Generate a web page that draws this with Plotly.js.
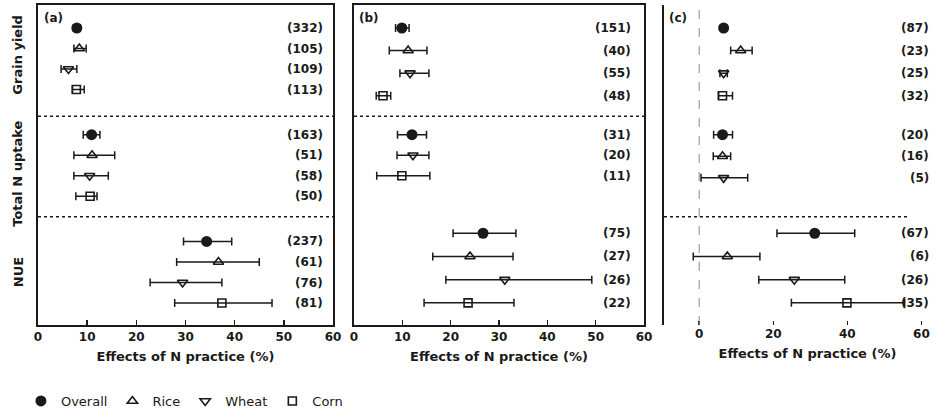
<!DOCTYPE html>
<html><head><meta charset="utf-8">
<script src="https://cdn.plot.ly/plotly-3.0.1.min.js"></script>
<style>html,body{margin:0;padding:0;background:#fff}#chart{width:951px;height:417px}</style>
</head><body><div id="chart"></div>
<script>
const groupNames = ['Grain yield', 'Total N uptake', 'NUE'];
const cropNames = ['Overall', 'Rice', 'Wheat', 'Corn'];
const panelLabels = ['(a)', '(b)', '(c)'];
const xTickVals = [0, 10, 20, 30, 40, 50, 60];
const xTickValsC = [0, 20, 40, 60];
const xTitle = 'Effects of N practice (%)';

// Panel (a)
const cropA = ['Overall','Rice','Wheat','Corn','Overall','Rice','Wheat','Corn','Overall','Rice','Wheat','Corn'];
const groupA = [0,0,0,0,1,1,1,1,2,2,2,2];
const meanA = [7.9, 8.4, 6.2, 7.8, 10.9, 11.0, 10.5, 10.6, 34.3, 36.7, 29.4, 37.4];
const lowA  = [7.2, 7.3, 4.7, 7.0, 9.2, 7.3, 7.3, 7.7, 29.6, 28.2, 22.8, 27.8];
const highA = [8.6, 9.8, 7.9, 9.4, 12.6, 15.6, 14.3, 12.0, 39.4, 45.0, 37.4, 47.6];
const nA = ['(332)','(105)','(109)','(113)','(163)','(51)','(58)','(50)','(237)','(61)','(76)','(81)'];

// Panel (b)
const cropB = ['Overall','Rice','Wheat','Corn','Overall','Wheat','Corn','Overall','Rice','Wheat','Corn'];
const groupB = [0,0,0,0,1,1,1,2,2,2,2];
const meanB = [9.9, 11.2, 11.6, 6.0, 12.0, 12.2, 9.9, 26.7, 24.0, 31.2, 23.6];
const lowB  = [8.6, 7.3, 9.5, 4.6, 9.0, 8.9, 4.7, 20.5, 16.3, 19.0, 14.5];
const highB = [11.4, 15.1, 15.5, 7.6, 15.0, 15.5, 15.7, 33.5, 32.9, 49.2, 33.1];
const nB = ['(151)','(40)','(55)','(48)','(31)','(20)','(11)','(75)','(27)','(26)','(22)'];

// Panel (c)
const cropC = ['Overall','Rice','Wheat','Corn','Overall','Rice','Wheat','Overall','Rice','Wheat','Corn'];
const groupC = [0,0,0,0,1,1,1,2,2,2,2];
const meanC = [6.6, 11.2, 6.6, 6.3, 6.3, 6.3, 6.6, 31.2, 7.6, 25.7, 39.9];
const lowC  = [5.8, 8.5, 5.6, 5.2, 3.9, 3.8, 0.5, 21.0, -1.6, 16.1, 24.9];
const highC = [7.4, 14.3, 7.6, 9.0, 9.0, 8.5, 13.1, 42.0, 16.4, 39.3, 55.5];
const nC = ['(87)','(23)','(25)','(32)','(20)','(16)','(5)','(67)','(6)','(26)','(35)'];

const FONT = 'DejaVu Sans, Liberation Sans, Arial, sans-serif';
const INK = '#1a1a1a';
const markerStyle = {
  Overall: {symbol: 'circle', size: 11, color: INK, line: {width: 0}},
  Rice: {symbol: 'triangle-up-open', size: 9, color: INK, line: {width: 1.6, color: INK}},
  Wheat: {symbol: 'triangle-down-open', size: 9, color: INK, line: {width: 1.6, color: INK}},
  Corn: {symbol: 'square-open', size: 8, color: INK, line: {width: 1.6, color: INK}}
};

// row layout per panel: start of each group and spacing between rows inside it
const panels = [
  {crop: cropA, group: groupA, mean: meanA, low: lowA, high: highA, n: nA, xa: 'x', ya: 'y', nx: 0.973,
   starts: [0, 5.2, 10.4], steps: [1, 1, 1]},
  {crop: cropB, group: groupB, mean: meanB, low: lowB, high: highB, n: nB, xa: 'x2', ya: 'y2', nx: 0.962,
   starts: [0, 5.2, 10.0], steps: [1.1, 1, 1.13]},
  {crop: cropC, group: groupC, mean: meanC, low: lowC, high: highC, n: nC, xa: 'x3', ya: 'y3', nx: 0.932,
   starts: [0, 5.2, 10.0], steps: [1.1, 1.05, 1.13]}
];

const B = s => '<b>' + s + '</b>';
const traces = [];
const annotations = [];
panels.forEach((p, pi) => {
  const counts = [0, 0, 0];
  const ypos = p.group.map(g => p.starts[g] + p.steps[g] * (counts[g]++));
  cropNames.forEach(c => {
    const idx = p.crop.map((v, i) => v === c ? i : -1).filter(i => i >= 0);
    traces.push({
      type: 'scatter', mode: 'markers', name: c, legendgroup: c, showlegend: pi === 0,
      xaxis: p.xa, yaxis: p.ya,
      x: idx.map(i => p.mean[i]), y: idx.map(i => ypos[i]),
      marker: markerStyle[c],
      error_x: {type: 'data', symmetric: false,
        array: idx.map(i => p.high[i] - p.mean[i]),
        arrayminus: idx.map(i => p.mean[i] - p.low[i]),
        color: INK, thickness: 1.5, width: 4},
      hoverinfo: 'x+name'
    });
  });
  p.n.forEach((t, i) => annotations.push({
    text: B(t), xref: p.xa + ' domain', x: p.nx, xanchor: 'right', yref: p.ya, y: ypos[i],
    yanchor: 'middle', showarrow: false, font: {family: FONT, size: 12, color: INK}
  }));
  annotations.push({
    text: B(panelLabels[pi]), xref: p.xa + ' domain', x: 0.012, xanchor: 'left',
    yref: p.ya + ' domain', y: 1, yanchor: 'top', yshift: -4, showarrow: false,
    font: {family: FONT, size: 12, color: INK}
  });
});

const groupLabelY = [1.3, 7.1, 11.9];
groupNames.forEach((g, gi) => annotations.push({
  text: B(g), textangle: -90, xref: 'paper', x: 18 / 951, xanchor: 'center',
  yref: 'y', y: groupLabelY[gi], yanchor: 'middle', showarrow: false,
  font: {family: FONT, size: 13, color: INK}
}));

const yRange = [14.47, -1.12];
const baseX = {
  range: [0, 60], tickvals: xTickVals, ticktext: xTickVals.map(v => B(v)),
  ticks: 'inside', ticklen: 5, tickwidth: 1.5, tickcolor: INK,
  showline: true, linewidth: 2, linecolor: INK, mirror: true, showgrid: false, zeroline: false,
  tickfont: {family: FONT, size: 12, color: INK},
  title: {text: B(xTitle), font: {family: FONT, size: 13, color: INK}, standoff: 8}
};
const baseY = {
  range: yRange, showticklabels: false, ticks: '', showline: true, linewidth: 2, linecolor: INK,
  mirror: true, showgrid: false, zeroline: false, fixedrange: true
};

const layout = {
  width: 951, height: 417, margin: {l: 0, r: 0, t: 5, b: 92},
  paper_bgcolor: '#fff', plot_bgcolor: '#fff', font: {family: FONT, color: INK},
  xaxis: Object.assign({}, baseX, {domain: [38 / 951, 333 / 951], anchor: 'y'}),
  yaxis: Object.assign({}, baseY, {domain: [0, 1], anchor: 'x'}),
  xaxis2: Object.assign({}, baseX, {domain: [354 / 951, 644 / 951], anchor: 'y2'}),
  yaxis2: Object.assign({}, baseY, {domain: [0, 1], anchor: 'x2'}),
  xaxis3: Object.assign({}, baseX, {domain: [664 / 951, 1], anchor: 'y3', range: [-9.5, 68],
    tickvals: xTickValsC, ticktext: xTickValsC.map(v => B(v)), showline: false, mirror: false, ticklen: 4}),
  yaxis3: Object.assign({}, baseY, {domain: [0, 1], anchor: 'x3', mirror: false, linewidth: 2.5}),
  showlegend: true,
  legend: {orientation: 'h', x: 0.022, xanchor: 'left', y: -0.2375, yanchor: 'middle',
    font: {family: FONT, size: 13, color: INK}, bgcolor: 'rgba(0,0,0,0)', itemwidth: 30},
  shapes: [
    {type: 'line', xref: 'x domain', x0: 0, x1: 1, yref: 'y', y0: 4.3, y1: 4.3, line: {color: INK, width: 1.5, dash: 'dot'}},
    {type: 'line', xref: 'x domain', x0: 0, x1: 1, yref: 'y', y0: 9.2, y1: 9.2, line: {color: INK, width: 1.5, dash: 'dot'}},
    {type: 'line', xref: 'x2 domain', x0: 0, x1: 1, yref: 'y2', y0: 4.3, y1: 4.3, line: {color: INK, width: 1.5, dash: 'dot'}},
    {type: 'line', xref: 'x3 domain', x0: 0, x1: 0.85, yref: 'y3', y0: 9.2, y1: 9.2, line: {color: INK, width: 1.5, dash: 'dot'}},
    {type: 'line', xref: 'x3', x0: 0, x1: 0, yref: 'y3 domain', y0: 0, y1: 1, line: {color: '#888', width: 1, dash: 'dash'}}
  ],
  annotations: annotations
};

Plotly.newPlot('chart', traces, layout, {displayModeBar: false, staticPlot: true});
</script></body></html>
